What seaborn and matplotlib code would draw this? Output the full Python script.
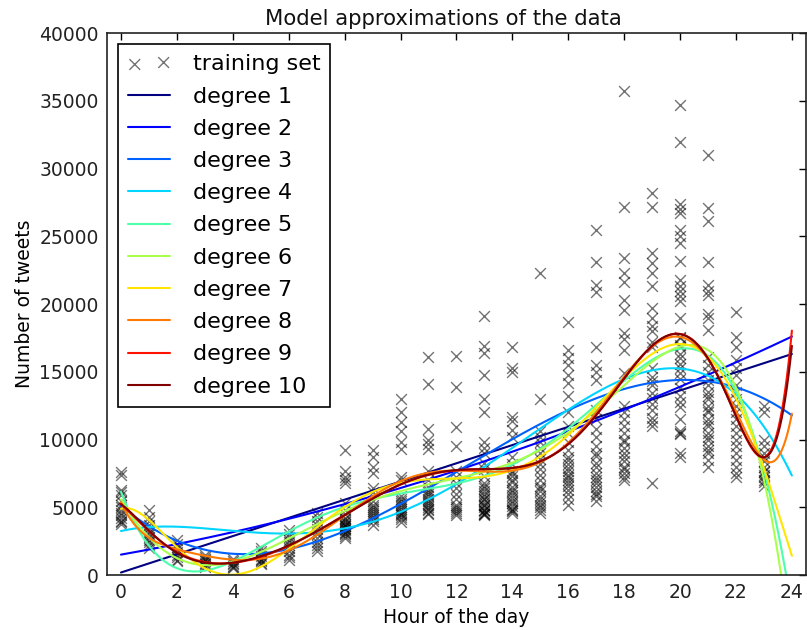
import warnings
import numpy as np
import pandas as pd
import seaborn as sns
import matplotlib.pyplot as plt

warnings.filterwarnings('ignore')

# tweets per hour (dense clusters estimated)
h0 = [7600, 7400, 6300, 6100, 5900, 5500, 5200, 5000, 4800, 4600, 4400, 4200, 4000, 3900, 3800]
h1 = [4800, 4300, 4000, 3700, 3500, 3200, 3000, 2800, 2600, 2400, 2200, 2000]
h2 = [2600, 2300, 2100, 1900, 1700, 1500, 1300, 1100, 1000]
h3 = [1500, 1300, 1200, 1100, 1000, 900, 800, 700, 600]
h4 = [1200, 1000, 900, 800, 700, 600, 500]
h5 = [2000, 1800, 1600, 1400, 1200, 1100, 1000, 900, 800]
h6 = [3300, 3000, 2800, 2600, 2400, 2200, 2000, 1800, 1500, 1300, 1100]
h7 = [4600, 4300, 4000, 3700, 3400, 3200, 3000, 2700, 2400, 2200, 2000, 1800]
h8 = [9200, 7700, 7200, 7000, 6800, 5300, 4800, 4500, 4200, 3900, 3600, 3300, 3000, 2700,
      4000, 3700, 3500, 3200, 2900, 3800, 3400, 3100, 3600, 4100]
h9 = [9200, 8700, 8000, 7500, 6400, 6100, 5500, 5200, 4900, 4600, 4300, 4000, 3700,
      5000, 4700, 4400, 4100]
h10 = [13000, 12000, 11300, 10600, 9800, 9300, 7200, 7000, 5800, 5500, 5200, 5000, 4700, 4400, 4100, 3900,
       5600, 5300, 4900, 4600, 4300, 4500]
h11 = [16100, 14100, 10800, 10000, 9700, 9300, 7700, 7000, 6500, 6100, 5800, 5500, 5200, 5000, 4800, 4500,
       5600, 5300, 4900, 4600, 6300, 6000]
h12 = [16200, 13900, 10900, 9500, 7700, 7200, 6800, 6400, 6000, 5600, 5200, 4900, 4600, 4400, 5000, 4700]
h13 = [19100, 16900, 16400, 14800, 13000, 12000, 9800, 9400, 9000, 8300, 7800, 7300, 6800, 6400, 6000,
       5600, 5200, 4800, 4500, 6600, 6200, 5800, 5400, 5000, 4700, 4600, 4500, 4400, 4800, 5200, 5600]
h14 = [16800, 15300, 15000, 11700, 11400, 10700, 10200, 8700, 8200, 7700, 7300, 6900, 6500, 6100, 5700,
       5300, 4900, 4600, 6300, 5900, 5500, 5100, 4800, 4700, 7000, 7500]
h15 = [22300, 13000, 10600, 10200, 9800, 9400, 9000, 8600, 8200, 7800, 7400, 7000, 6600, 6200, 5800,
       5400, 5000, 4600, 6400, 5600, 5200, 4800]
h16 = [18700, 16600, 16000, 15500, 14800, 14200, 13200, 12000, 11000, 10500, 9800, 8700, 8200, 7700,
       7200, 6800, 6300, 5200, 9200, 8500, 7900, 7400, 7000, 6600, 6000, 5600]
h17 = [25500, 23100, 21400, 20900, 16800, 15500, 15000, 14400, 12200, 11500, 10800, 10200, 9500, 8800,
       8300, 7500, 7000, 6500, 6000, 5500, 9000, 8000, 7200, 6800, 6200, 5800]
h18 = [35700, 27200, 23400, 22300, 21600, 20300, 19600, 17900, 17400, 16600, 14900, 12000, 11000, 10000,
       9400, 8700, 8000, 7500, 7000, 12500, 11500, 10500, 9800, 9000, 8400, 7800, 7200]
h19 = [28200, 27200, 23800, 23000, 22300, 21300, 19700, 19000, 18400, 18000, 17200, 16800, 15300, 14600,
       14000, 13400, 12200, 11600, 11000, 6800, 14300, 13100, 12600, 11300]
h20 = [34700, 32000, 27400, 27000, 26700, 25500, 25000, 24500, 23200, 21800, 21300, 21000, 20600, 20200,
       19000, 17600, 17000, 16300, 15600, 14900, 12400, 11500, 10500, 10400, 8700,
       17500, 16800, 16000, 15300, 14500, 13800, 13200, 12800, 10600, 9000]
h21 = [31000, 27100, 26100, 23100, 21400, 21000, 20700, 19300, 19000, 18100, 16100, 15500, 15000, 14400,
       14000, 13500, 13000, 12500, 12000, 11500, 11000, 10500, 10000, 9500, 9000, 8500, 8000,
       13200, 12200, 11200, 10200, 9200]
h22 = [19400, 17600, 16800, 15900, 15300, 14800, 14000, 13500, 13000, 12500, 12000, 11500, 11000, 10500,
       10000, 9500, 9000, 8500, 8000, 7500, 7200]
h23 = [12500, 12000, 10000, 9500, 9000, 8700, 8400, 8000, 7700, 7400, 7000, 6600, 7200, 6900, 7600]

hours = [h0, h1, h2, h3, h4, h5, h6, h7, h8, h9, h10, h11, h12, h13, h14, h15, h16, h17,
         h18, h19, h20, h21, h22, h23]
degrees = [1, 2, 3, 4, 5, 6, 7, 8, 9, 10]

x = np.concatenate([[i] * len(v) for i, v in enumerate(hours)]).astype(float)
y = np.concatenate(hours).astype(float)
df = pd.DataFrame({'hour': x, 'tweets': y})

sns.set_style('white')
plt.rcParams['font.family'] = ['DejaVu Sans']
plt.rcParams['text.color'] = 'black'
plt.rcParams['axes.labelcolor'] = 'black'

fig = plt.figure(figsize=(8.07, 6.3), dpi=100)
ax = fig.add_axes([0.1326, 0.0873, 0.866, 0.860])

sns.scatterplot(data=df, x='hour', y='tweets', marker='x', color='black', alpha=0.55,
                s=60, linewidth=1.0, label='training set', ax=ax)

colors = plt.cm.jet(np.linspace(0, 1, len(degrees)))
fx = np.linspace(0, 24, 400)
for d, c in zip(degrees, colors):
    f = np.poly1d(np.polyfit(x, y, d))
    sns.lineplot(x=fx, y=f(fx), color=c, linewidth=1.5, label='degree %d' % d, ax=ax)

ax.set_xlim(-0.5, 24.5)
ax.set_ylim(0, 40000)
ax.set_xticks(range(0, 25, 2))
ax.set_yticks(range(0, 40001, 5000))
ax.tick_params(direction='in', length=5, width=1, top=True, right=True, labelsize=13.5,
               colors='black', labelcolor='#222222', pad=6)
for s in ax.spines.values():
    s.set_color('#222222')
    s.set_linewidth(1.2)

ax.set_title('Model approximations of the data', fontsize=15.3, pad=6, color='#111111', x=0.482)
ax.set_xlabel('Hour of the day', fontsize=13.5)
ax.set_ylabel('Number of tweets', fontsize=13.5)

leg = ax.legend(loc='upper left', fontsize=16, scatterpoints=2, fancybox=False, framealpha=1,
                edgecolor='black', borderpad=0.45, labelspacing=0.55, handlelength=1.9,
                handletextpad=1.0)
leg.get_frame().set_linewidth(1.2)

fig.savefig('out.png', dpi=100)
